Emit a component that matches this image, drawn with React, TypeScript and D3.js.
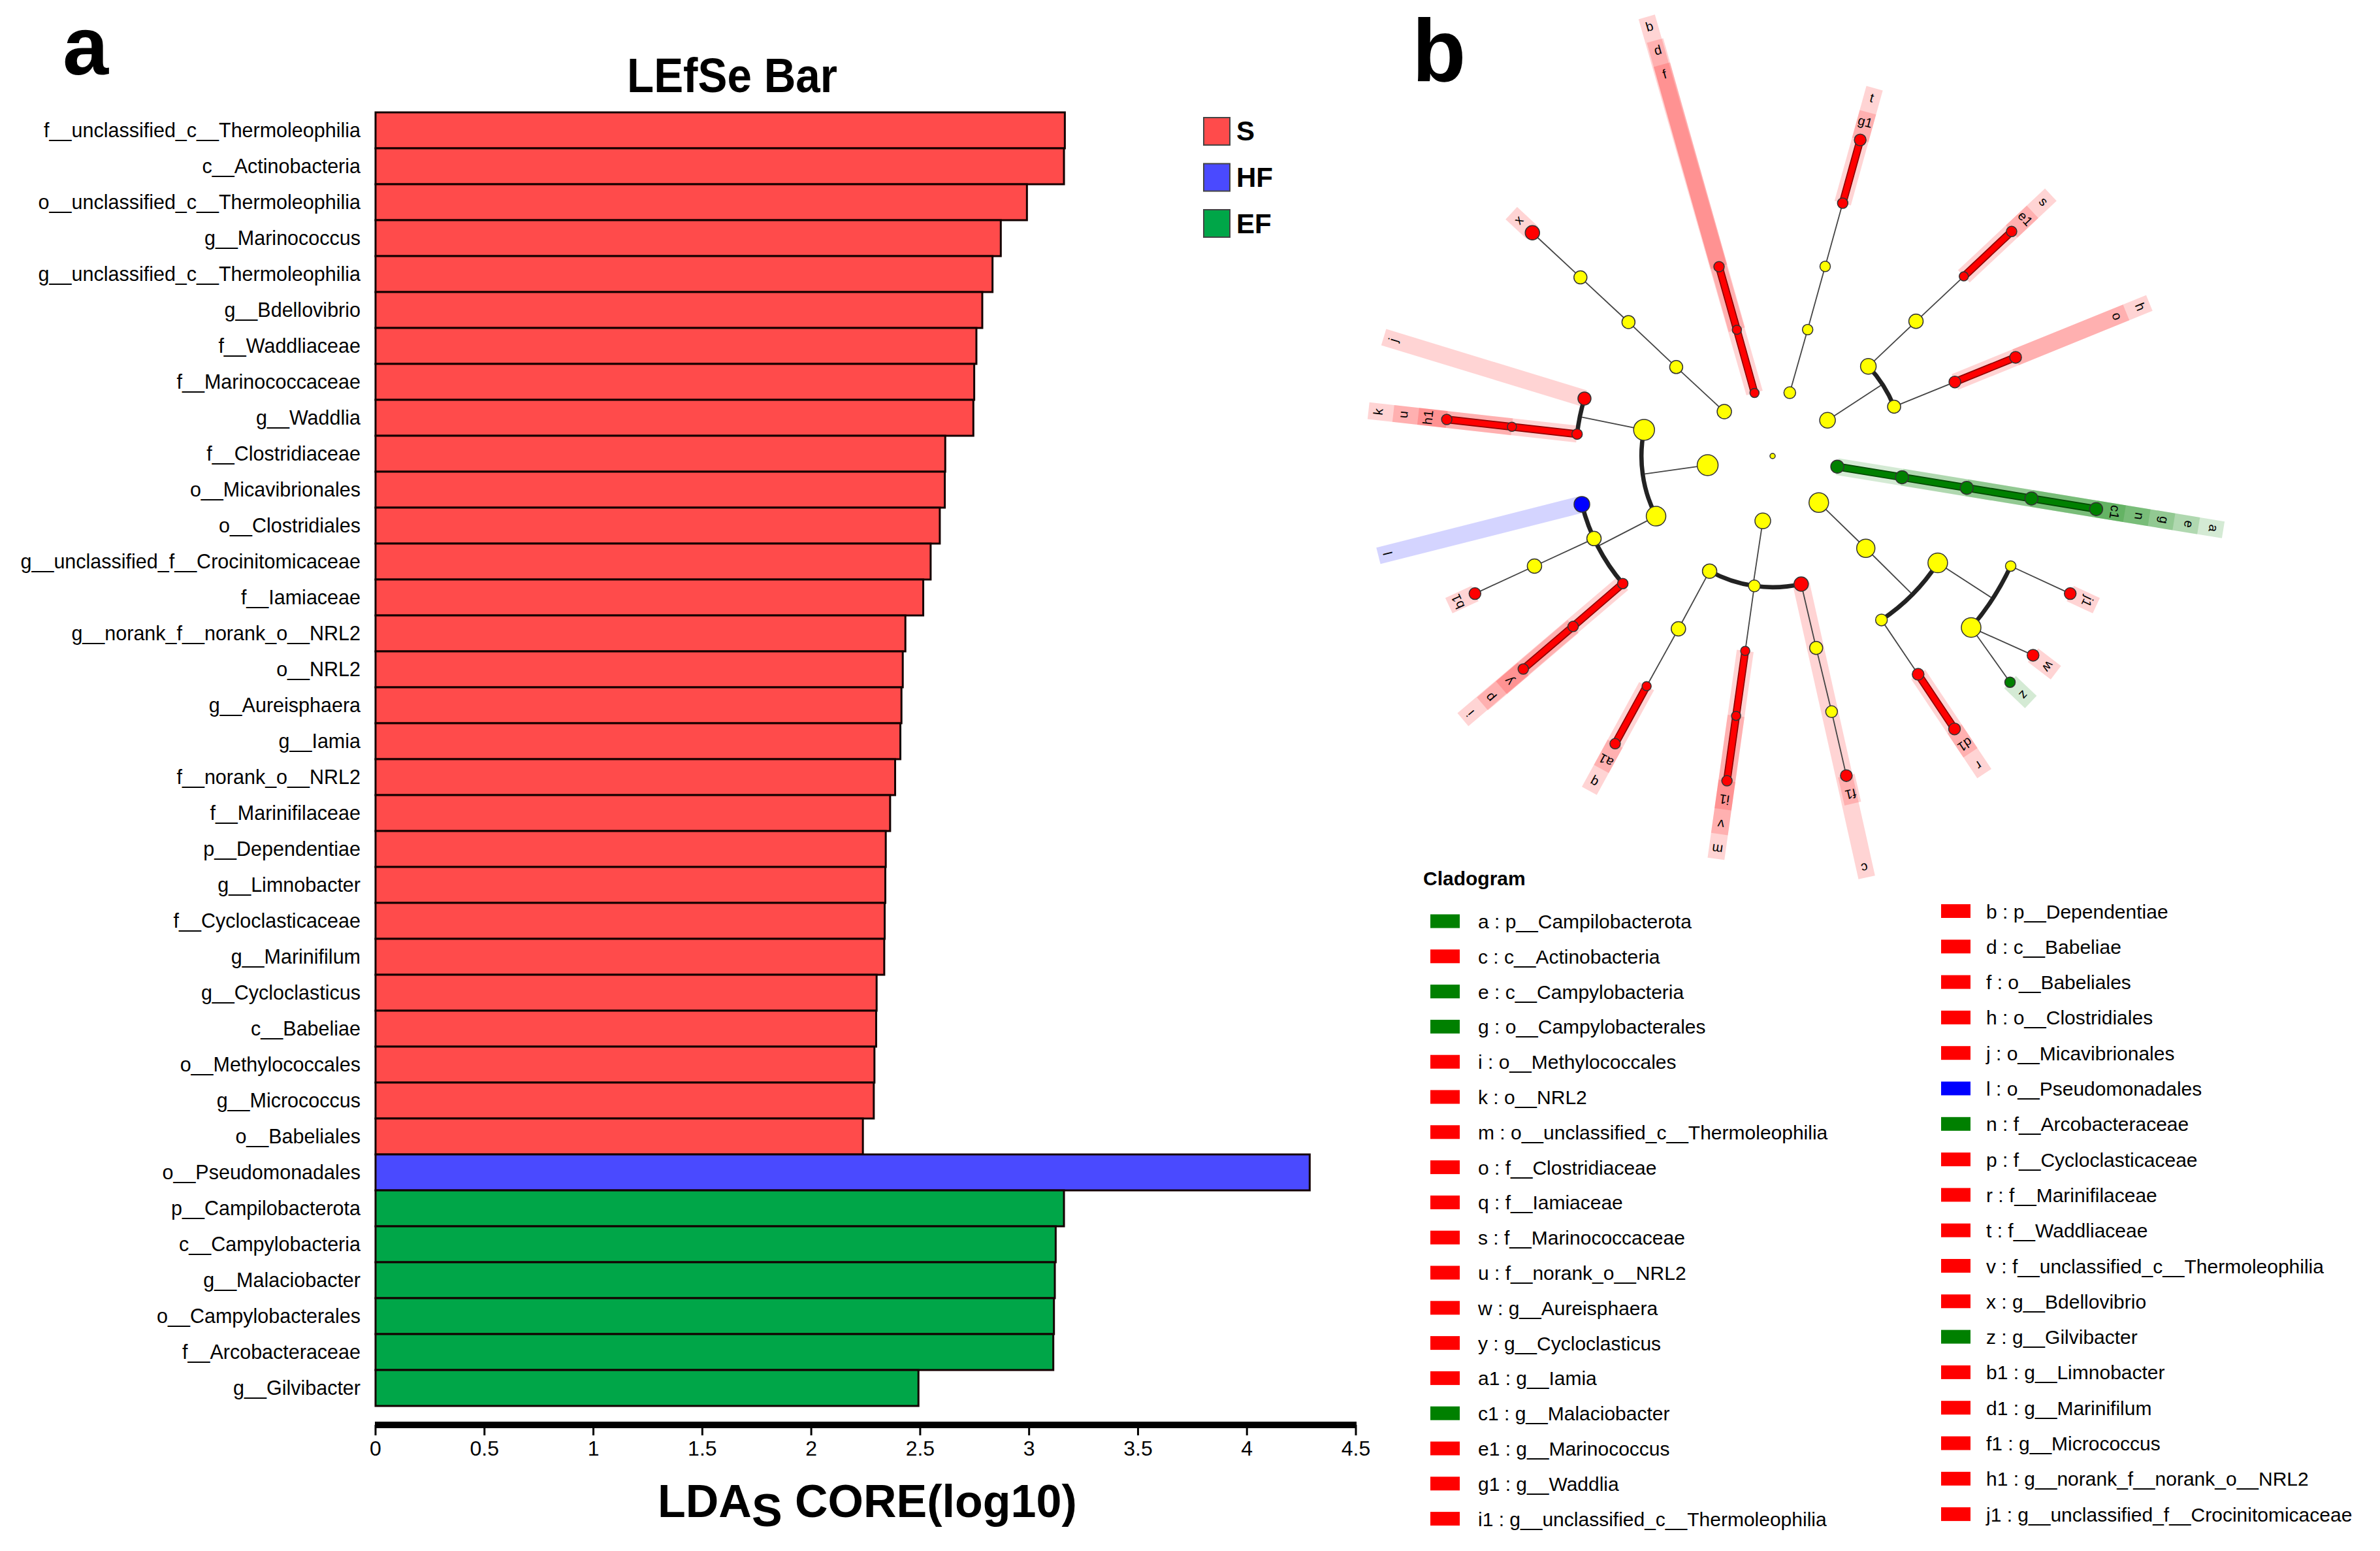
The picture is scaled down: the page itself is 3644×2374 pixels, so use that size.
import React from 'react';
import * as d3 from 'd3';

const W = 3644;
const H = 2374;
const FONT = "'Liberation Sans', Arial, Helvetica, sans-serif";

// ---- panel a: LEfSe bar data (top to bottom) ----
const barNames = [
  'f__unclassified_c__Thermoleophilia', 'c__Actinobacteria', 'o__unclassified_c__Thermoleophilia',
  'g__Marinococcus', 'g__unclassified_c__Thermoleophilia', 'g__Bdellovibrio', 'f__Waddliaceae',
  'f__Marinococcaceae', 'g__Waddlia', 'f__Clostridiaceae', 'o__Micavibrionales', 'o__Clostridiales',
  'g__unclassified_f__Crocinitomicaceae', 'f__Iamiaceae', 'g__norank_f__norank_o__NRL2', 'o__NRL2',
  'g__Aureisphaera', 'g__Iamia', 'f__norank_o__NRL2', 'f__Marinifilaceae', 'p__Dependentiae',
  'g__Limnobacter', 'f__Cycloclasticaceae', 'g__Marinifilum', 'g__Cycloclasticus', 'c__Babeliae',
  'o__Methylococcales', 'g__Micrococcus', 'o__Babeliales', 'o__Pseudomonadales',
  'p__Campilobacterota', 'c__Campylobacteria', 'g__Malaciobacter', 'o__Campylobacterales',
  'f__Arcobacteraceae', 'g__Gilvibacter',
];
const barValues = [
  3.164, 3.16, 2.99, 2.87, 2.832, 2.785, 2.758, 2.748, 2.744, 2.615, 2.613, 2.59,
  2.548, 2.514, 2.432, 2.42, 2.414, 2.409, 2.385, 2.362, 2.342, 2.34, 2.337, 2.335,
  2.3, 2.298, 2.29, 2.287, 2.237, 4.288, 3.16, 3.122, 3.118, 3.114, 3.111, 2.492,
];
const barGroups = [
  'S', 'S', 'S', 'S', 'S', 'S', 'S', 'S', 'S', 'S', 'S', 'S', 'S', 'S', 'S', 'S', 'S', 'S',
  'S', 'S', 'S', 'S', 'S', 'S', 'S', 'S', 'S', 'S', 'S', 'HF', 'EF', 'EF', 'EF', 'EF', 'EF', 'EF',
];
const groupNames = ['S', 'HF', 'EF'];
const ldaTicks = [0, 0.5, 1, 1.5, 2, 2.5, 3, 3.5, 4, 4.5];

const barColours: Record<string, string> = { S: '#FF4B4B', HF: '#4A4AFF', EF: '#00A648' };
const cladeColours: Record<string, string> = { S: '#FF0000', HF: '#0000FF', EF: '#008000' };

// ---- panel b: cladogram ----
// [id, parent, level, angle (deg, clockwise from top), node size, group, tag]
type CladeNode = [string, string | null, number, number, number, string, string];
const cladeNodes: CladeNode[] = [
  ['root', null, 0, 0, 4, '', ''],
  // Dependentiae
  ['b', 'root', 1, -16, 7, 'S', 'b'],
  ['d', 'b', 2, -15.8, 7, 'S', 'd'],
  ['f', 'd', 3, -15.8, 8, 'S', 'f'],
  // Waddlia
  ['y1', 'root', 1, 15.2, 9, '', ''],
  ['y2', 'y1', 2, 15.5, 8, '', ''],
  ['y3', 'y2', 3, 15.5, 8, '', ''],
  ['t', 'y3', 4, 15.5, 8, 'S', 't'],
  ['g1', 't', 5, 15.5, 9, 'S', 'g1'],
  // Bdellovibrio
  ['x1', 'root', 1, -47.4, 11, '', ''],
  ['x2', 'x1', 2, -47.3, 10, '', ''],
  ['x3', 'x2', 3, -47.1, 10, '', ''],
  ['x4', 'x3', 4, -47.1, 10, '', ''],
  ['x', 'x4', 5, -47.1, 11, 'S', 'x'],
  // left cluster
  ['p1', 'root', 1, -98, 16, '', ''],
  ['c1a', 'p1', 2, -78.5, 16, '', ''],
  ['c1b', 'p1', 2, -117.3, 15, '', ''],
  ['j', 'c1a', 3, -73, 10, 'S', 'j'],
  ['k', 'c1a', 3, -83.6, 8, 'S', 'k'],
  ['u', 'k', 4, -83.6, 7, 'S', 'u'],
  ['h1', 'u', 5, -83.6, 8, 'S', 'h1'],
  ['l', 'c1b', 3, -104.2, 12, 'HF', 'l'],
  ['o1', 'c1b', 3, -114.8, 11, '', ''],
  ['o1f', 'o1', 4, -114.8, 11, '', ''],
  ['b1', 'o1f', 5, -114.8, 9, 'S', 'b1'],
  ['i', 'c1b', 3, -130.4, 8, 'S', 'i'],
  ['p', 'i', 4, -130.5, 8, 'S', 'p'],
  ['y', 'p', 5, -130.5, 8, 'S', 'y'],
  // bottom cluster
  ['a1p', 'root', 1, -171.4, 12, '', ''],
  ['c2a', 'a1p', 2, -151.3, 11, '', ''],
  ['c2b', 'a1p', 2, -172, 9, '', ''],
  ['c', 'a1p', 2, -192.6, 11, 'S', 'c'],
  ['o2a', 'c2a', 3, -151.4, 11, '', ''],
  ['q', 'o2a', 4, -151.3, 7, 'S', 'q'],
  ['a1', 'q', 5, -151.3, 8, 'S', 'a1'],
  ['m', 'c2b', 3, -172, 7, 'S', 'm'],
  ['v', 'm', 4, -172, 7, 'S', 'v'],
  ['i1', 'v', 5, -172, 8, 'S', 'i1'],
  ['c3', 'c', 3, -192.8, 10, '', ''],
  ['c4', 'c3', 4, -193, 9, '', ''],
  ['f1', 'c4', 5, -193, 9, 'S', 'f1'],
  // lower right cluster
  ['bp', 'root', 1, 135.2, 15, '', ''],
  ['bc', 'bp', 2, 134.7, 14, '', ''],
  ['bo1', 'bc', 3, 122.9, 15, '', ''],
  ['bo2', 'bc', 3, 146.4, 9, '', ''],
  ['r', 'bo2', 4, 146.3, 9, 'S', 'r'],
  ['d1', 'r', 5, 146.3, 9, 'S', 'd1'],
  ['bf1', 'bo1', 4, 114.8, 8, '', ''],
  ['bf2', 'bo1', 4, 130.8, 15, '', ''],
  ['j1', 'bf1', 5, 114.8, 9, 'S', 'j1'],
  ['w', 'bf2', 5, 127.4, 9, 'S', 'w'],
  ['z', 'bf2', 5, 133.6, 8, 'EF', 'z'],
  // upper right cluster
  ['fp', 'root', 1, 56.9, 12, '', ''],
  ['fc1', 'fp', 2, 46.9, 12, '', ''],
  ['fc2', 'fp', 2, 67.9, 10, '', ''],
  ['fo1', 'fc1', 3, 46.8, 11, '', ''],
  ['s', 'fo1', 4, 46.8, 7, 'S', 's'],
  ['e1', 's', 5, 46.8, 8, 'S', 'e1'],
  ['h', 'fc2', 3, 67.9, 9, 'S', 'h'],
  ['o', 'h', 4, 67.9, 9, 'S', 'o'],
  // Campilobacterota
  ['a', 'root', 1, 99.3, 10, 'EF', 'a'],
  ['e', 'a', 2, 99.3, 10, 'EF', 'e'],
  ['g', 'e', 3, 99.3, 10, 'EF', 'g'],
  ['n', 'g', 4, 99.3, 10, 'EF', 'n'],
  ['c1', 'n', 5, 99.3, 10, 'EF', 'c1'],
];

const legendTags = [
  'a', 'b', 'c', 'd', 'e', 'f', 'g', 'h', 'i', 'j', 'k', 'l', 'm', 'n', 'o', 'p', 'q', 'r',
  's', 't', 'u', 'v', 'w', 'x', 'y', 'z', 'a1', 'b1', 'c1', 'd1', 'e1', 'f1', 'g1', 'h1', 'i1', 'j1',
];
const legendNames = [
  'p__Campilobacterota', 'p__Dependentiae', 'c__Actinobacteria', 'c__Babeliae', 'c__Campylobacteria',
  'o__Babeliales', 'o__Campylobacterales', 'o__Clostridiales', 'o__Methylococcales', 'o__Micavibrionales',
  'o__NRL2', 'o__Pseudomonadales', 'o__unclassified_c__Thermoleophilia', 'f__Arcobacteraceae',
  'f__Clostridiaceae', 'f__Cycloclasticaceae', 'f__Iamiaceae', 'f__Marinifilaceae', 'f__Marinococcaceae',
  'f__Waddliaceae', 'f__norank_o__NRL2', 'f__unclassified_c__Thermoleophilia', 'g__Aureisphaera',
  'g__Bdellovibrio', 'g__Cycloclasticus', 'g__Gilvibacter', 'g__Iamia', 'g__Limnobacter',
  'g__Malaciobacter', 'g__Marinifilum', 'g__Marinococcus', 'g__Micrococcus', 'g__Waddlia',
  'g__norank_f__norank_o__NRL2', 'g__unclassified_c__Thermoleophilia', 'g__unclassified_f__Crocinitomicaceae',
];
const legendGroups = [
  'EF', 'S', 'S', 'S', 'EF', 'S', 'EF', 'S', 'S', 'S', 'S', 'HF', 'S', 'EF', 'S', 'S', 'S', 'S',
  'S', 'S', 'S', 'S', 'S', 'S', 'S', 'EF', 'S', 'S', 'EF', 'S', 'S', 'S', 'S', 'S', 'S', 'S',
];

function LefseBar() {
  const x = d3.scaleLinear().domain([0, 4.5]).range([575, 2076]);
  const y = d3.scaleBand<string>().domain(barNames).range([172, 2152]).padding(0);
  const axisY = 2181;

  return (
    <g>
      <text x={96} y={114} fontSize={126} fontWeight="bold">a</text>
      <text x={960} y={141} fontSize={74} fontWeight="bold" textLength={322} lengthAdjust="spacingAndGlyphs">
        LEfSe Bar
      </text>

      {barNames.map((name, i) => (
        <g key={name}>
          <rect
            x={x(0)}
            y={y(name)}
            width={x(barValues[i]) - x(0)}
            height={y.bandwidth()}
            fill={barColours[barGroups[i]]}
            stroke="#140000"
            strokeWidth={3}
          />
          <text x={552} y={(y(name) as number) + y.bandwidth() / 2 + 10.5} textAnchor="end" fontSize={30.5}>
            {name}
          </text>
        </g>
      ))}

      {/* x axis */}
      <line x1={x(0) - 1} x2={x(4.5) + 1} y1={axisY} y2={axisY} stroke="#000" strokeWidth={10} />
      {ldaTicks.map((t) => (
        <g key={t}>
          <line x1={x(t)} x2={x(t)} y1={axisY} y2={axisY + 16} stroke="#000" strokeWidth={3} />
          <text x={x(t)} y={2228} textAnchor="middle" fontSize={32}>{t}</text>
        </g>
      ))}
      <text x={1007} y={2322} fontSize={70} fontWeight="bold">
        LDA<tspan dy={14}>S</tspan><tspan dy={-14}> CORE(log10)</tspan>
      </text>

      {/* group legend */}
      {groupNames.map((g, i) => (
        <g key={g}>
          <rect x={1843} y={180 + i * 70.5} width={40} height={42} fill={barColours[g]} stroke="#444" strokeWidth={2} />
          <text x={1893} y={215 + i * 71} fontSize={42} fontWeight="bold">{g}</text>
        </g>
      ))}
    </g>
  );
}

function Cladogram() {
  const cx = 2714;
  const cy = 698;
  const r = d3.scaleLinear().domain([0, 5]).range([0, 502]);
  const labelR = (lvl: number) => 531 + (5 - lvl) * 38.3;
  const rad = (deg: number) => (deg * Math.PI) / 180;
  const pt = (radius: number, deg: number): [number, number] => [
    cx + radius * Math.sin(rad(deg)),
    cy - radius * Math.cos(rad(deg)),
  ];

  const byId = new Map(cladeNodes.map((n) => [n[0], n]));
  const kids = d3.group(cladeNodes.filter((n) => n[1] && n[1] !== 'root'), (n) => n[1] as string);
  const colourOf = (g: string) => (g ? cladeColours[g] : '#FFFF00');

  const thin: React.ReactNode[] = [];
  const arcs: React.ReactNode[] = [];
  const thick: React.ReactNode[] = [];
  const arcGen = d3.arc<any>();

  kids.forEach((children, pid) => {
    const parent = byId.get(pid) as CladeNode;
    const [px, py] = pt(r(parent[2]), parent[3]);
    if (children.length === 1) {
      const c = children[0];
      const [qx, qy] = pt(r(c[2]), c[3]);
      if (parent[5] && parent[5] === c[5]) {
        const col = cladeColours[c[5]];
        thick.push(
          <g key={`t-${c[0]}`}>
            <line x1={px} y1={py} x2={qx} y2={qy} stroke={d3.color(col)!.darker(1.6).formatHex()} strokeWidth={12} />
            <line x1={px} y1={py} x2={qx} y2={qy} stroke={col} strokeWidth={8.5} />
          </g>,
        );
      } else {
        thin.push(<line key={`l-${c[0]}`} x1={px} y1={py} x2={qx} y2={qy} stroke="#444" strokeWidth={1.8} />);
      }
      return;
    }
    const angles = children.map((c) => c[3]);
    const lo = d3.min(angles) as number;
    const hi = d3.max(angles) as number;
    const childR = r(children[0][2]);
    if (hi - lo < 8) {
      children.forEach((c) => {
        const [qx, qy] = pt(r(c[2]), c[3]);
        thin.push(<line key={`l-${c[0]}`} x1={px} y1={py} x2={qx} y2={qy} stroke="#444" strokeWidth={1.8} />);
      });
      return;
    }
    const [ex, ey] = pt(childR, parent[3]);
    thin.push(<line key={`l-${pid}`} x1={px} y1={py} x2={ex} y2={ey} stroke="#444" strokeWidth={1.8} />);
    arcs.push(
      <path
        key={`a-${pid}`}
        transform={`translate(${cx},${cy})`}
        d={arcGen({ innerRadius: childR - 3.3, outerRadius: childR + 3.3, startAngle: rad(lo), endAngle: rad(hi) }) as string}
        fill="#222"
      />,
    );
  });

  const markers = cladeNodes.filter((n) => n[5]);

  return (
    <g>
      <text x={2162} y={124} fontSize={135} fontWeight="bold">b</text>

      {/* clade shading */}
      {markers.map((n) => {
        const r0 = r(n[2]);
        const r1 = labelR(n[2]) + 15;
        return (
          <rect
            key={`s-${n[0]}`}
            transform={`translate(${cx},${cy}) rotate(${n[3]})`}
            x={-13}
            y={-r1}
            width={26}
            height={r1 - r0}
            fill={cladeColours[n[5]]}
            fillOpacity={0.17}
          />
        );
      })}

      {thin}
      {arcs}
      {thick}

      {cladeNodes.map((n) => {
        const [nx, ny] = pt(r(n[2]), n[3]);
        return (
          <circle key={`n-${n[0]}`} cx={nx} cy={ny} r={n[4]} fill={colourOf(n[5])} stroke="#333" strokeWidth={1.5} />
        );
      })}

      {markers.map((n) => (
        <text
          key={`tag-${n[0]}`}
          transform={`translate(${cx},${cy}) rotate(${n[3]}) translate(0,${-labelR(n[2])})`}
          textAnchor="middle"
          dominantBaseline="central"
          fontSize={20}
        >
          {n[6]}
        </text>
      ))}

      {/* legend */}
      <text x={2179} y={1355} fontSize={30} fontWeight="bold">Cladogram</text>
      {legendTags.map((tag, i) => {
        const col = i % 2;
        const row = Math.floor(i / 2);
        const yc = col === 0 ? 1410 + row * 53.8 : 1394.5 + row * 54.3;
        const sx = col === 0 ? 2190 : 2972;
        const tx = col === 0 ? 2263 : 3041;
        return (
          <g key={tag}>
            <rect x={sx} y={yc - 10.5} width={45} height={21} fill={cladeColours[legendGroups[i]]} />
            <text x={tx} y={yc + 11} fontSize={30}>{`${tag} : ${legendNames[i]}`}</text>
          </g>
        );
      })}
    </g>
  );
}

export default function App() {
  return (
    <svg
      width={W}
      height={H}
      viewBox={`0 0 ${W} ${H}`}
      style={{ position: 'absolute', left: 0, top: 0, background: '#fff' }}
      fontFamily={FONT}
    >
      <rect width={W} height={H} fill="#fff" />
      <LefseBar />
      <Cladogram />
    </svg>
  );
}
